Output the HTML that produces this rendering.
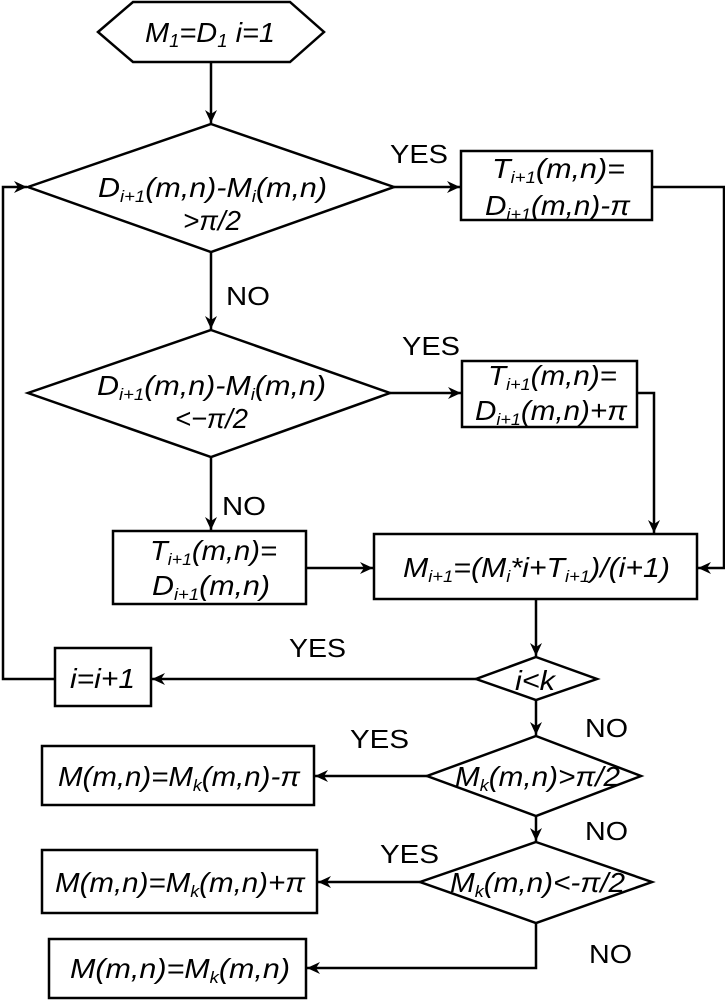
<!DOCTYPE html>
<html><head><meta charset="utf-8"><style>html,body{margin:0;padding:0;background:#fff}svg{display:block}</style></head>
<body>
<svg width="725" height="1000" viewBox="0 0 725 1000" xmlns="http://www.w3.org/2000/svg" font-family="Liberation Sans, Arial, sans-serif">
<defs>
<marker id="a" markerWidth="14" markerHeight="12" refX="13" refY="6" orient="auto" markerUnits="userSpaceOnUse">
<path d="M0,0 L13,6 L0,12 L4,6 Z" fill="#000"/>
</marker>
</defs>
<g fill="none" stroke="#000" stroke-width="2.5">
<polygon points="98,32 133,2 290,2 324,32 290,62 133,62" fill="#fff"/>
<polygon points="211,124 394,187 211,252 28,187" fill="#fff"/>
<polygon points="211,330 390,393 211,457 28,393" fill="#fff"/>
<rect x="461" y="151" width="191" height="69"/>
<rect x="462" y="361" width="175" height="66"/>
<rect x="113" y="531" width="193" height="73"/>
<rect x="374" y="534" width="323" height="65"/>
<rect x="55" y="648" width="96" height="58"/>
<polygon points="536,657 597,679 536,700 476,679"/>
<polygon points="536,736 641,776 536,816 427,776"/>
<rect x="42" y="746" width="272" height="59"/>
<polygon points="536,842 652,882 536,923 420,882"/>
<rect x="42" y="850" width="275" height="63"/>
<rect x="49" y="939" width="257" height="59"/>
</g>
<g fill="none" stroke="#000" stroke-width="2.5" marker-end="url(#a)">
<line x1="211" y1="62" x2="211" y2="123"/>
<line x1="394" y1="187" x2="460" y2="187"/>
<polyline points="652,187 724,187 724,568 698,568"/>
<line x1="211" y1="252" x2="211" y2="329"/>
<line x1="390" y1="393" x2="461" y2="393"/>
<polyline points="637,393 654,393 654,533"/>
<line x1="211" y1="457" x2="211" y2="530"/>
<line x1="306" y1="568" x2="373" y2="568"/>
<line x1="536" y1="599" x2="536" y2="656"/>
<line x1="476" y1="679" x2="152" y2="679"/>
<polyline points="55,679 3,679 3,187 27,187"/>
<line x1="536" y1="700" x2="536" y2="735"/>
<line x1="427" y1="776" x2="315" y2="776"/>
<line x1="536" y1="816" x2="536" y2="841"/>
<line x1="420" y1="882" x2="318" y2="882"/>
<polyline points="536,923 536,968 307,968"/>
</g>
<g font-size="28" font-style="italic" fill="#000" lengthAdjust="spacingAndGlyphs">
<text x="145" y="42" textLength="130" lengthAdjust="spacingAndGlyphs">M<tspan font-size="18" dy="5">1</tspan><tspan dy="-5">=D</tspan><tspan font-size="18" dy="5">1</tspan><tspan dy="-5"> i=1</tspan></text>
<text x="98" y="197" textLength="229" lengthAdjust="spacingAndGlyphs">D<tspan font-size="17" dy="5">i+1</tspan><tspan dy="-5">(m,n)-M</tspan><tspan font-size="17" dy="5">i</tspan><tspan dy="-5">(m,n)</tspan></text>
<text x="183" y="230" textLength="58" lengthAdjust="spacingAndGlyphs">&gt;π/2</text>
<text x="492" y="178" textLength="133" lengthAdjust="spacingAndGlyphs">T<tspan font-size="17" dy="5">i+1</tspan><tspan dy="-5">(m,n)=</tspan></text>
<text x="485" y="215" textLength="145" lengthAdjust="spacingAndGlyphs">D<tspan font-size="17" dy="5">i+1</tspan><tspan dy="-5">(m,n)-π</tspan></text>
<text x="97" y="395" textLength="229" lengthAdjust="spacingAndGlyphs">D<tspan font-size="17" dy="5">i+1</tspan><tspan dy="-5">(m,n)-M</tspan><tspan font-size="17" dy="5">i</tspan><tspan dy="-5">(m,n)</tspan></text>
<text x="175" y="428" textLength="73" lengthAdjust="spacingAndGlyphs">&lt;−π/2</text>
<text x="488" y="385" textLength="129" lengthAdjust="spacingAndGlyphs">T<tspan font-size="17" dy="5">i+1</tspan><tspan dy="-5">(m,n)=</tspan></text>
<text x="475" y="420" textLength="152" lengthAdjust="spacingAndGlyphs">D<tspan font-size="17" dy="5">i+1</tspan><tspan dy="-5">(m,n)+π</tspan></text>
<text x="150" y="560" textLength="127" lengthAdjust="spacingAndGlyphs">T<tspan font-size="17" dy="5">i+1</tspan><tspan dy="-5">(m,n)=</tspan></text>
<text x="152" y="595" textLength="118" lengthAdjust="spacingAndGlyphs">D<tspan font-size="17" dy="5">i+1</tspan><tspan dy="-5">(m,n)</tspan></text>
<text x="403" y="577" textLength="267" lengthAdjust="spacingAndGlyphs">M<tspan font-size="17" dy="5">i+1</tspan><tspan dy="-5">=(M</tspan><tspan font-size="17" dy="5">i</tspan><tspan dy="-5">*i+T</tspan><tspan font-size="17" dy="5">i+1</tspan><tspan dy="-5">)/(i+1)</tspan></text>
<text x="70" y="688" textLength="65" lengthAdjust="spacingAndGlyphs">i=i+1</text>
<text x="515" y="690" textLength="40" lengthAdjust="spacingAndGlyphs">i&lt;k</text>
<text x="455" y="786" textLength="165" lengthAdjust="spacingAndGlyphs">M<tspan font-size="17" dy="5">k</tspan><tspan dy="-5">(m,n)&gt;π/2</tspan></text>
<text x="58" y="786" textLength="242" lengthAdjust="spacingAndGlyphs">M(m,n)=M<tspan font-size="17" dy="5">k</tspan><tspan dy="-5">(m,n)-π</tspan></text>
<text x="450" y="892" textLength="175" lengthAdjust="spacingAndGlyphs">M<tspan font-size="17" dy="5">k</tspan><tspan dy="-5">(m,n)&lt;-π/2</tspan></text>
<text x="55" y="892" textLength="250" lengthAdjust="spacingAndGlyphs">M(m,n)=M<tspan font-size="17" dy="5">k</tspan><tspan dy="-5">(m,n)+π</tspan></text>
<text x="70" y="978" textLength="220" lengthAdjust="spacingAndGlyphs">M(m,n)=M<tspan font-size="17" dy="5">k</tspan><tspan dy="-5">(m,n)</tspan></text>
</g>
<g font-size="26" fill="#000">
<text x="390" y="163" textLength="58" lengthAdjust="spacingAndGlyphs">YES</text>
<text x="226" y="305" textLength="44" lengthAdjust="spacingAndGlyphs">NO</text>
<text x="402" y="355" textLength="58" lengthAdjust="spacingAndGlyphs">YES</text>
<text x="222" y="515" textLength="44" lengthAdjust="spacingAndGlyphs">NO</text>
<text x="289" y="657" textLength="57" lengthAdjust="spacingAndGlyphs">YES</text>
<text x="585" y="737" textLength="43" lengthAdjust="spacingAndGlyphs">NO</text>
<text x="350" y="748" textLength="59" lengthAdjust="spacingAndGlyphs">YES</text>
<text x="585" y="840" textLength="43" lengthAdjust="spacingAndGlyphs">NO</text>
<text x="380" y="863" textLength="59" lengthAdjust="spacingAndGlyphs">YES</text>
<text x="589" y="963" textLength="43" lengthAdjust="spacingAndGlyphs">NO</text>
</g>
</svg>
</body></html>
